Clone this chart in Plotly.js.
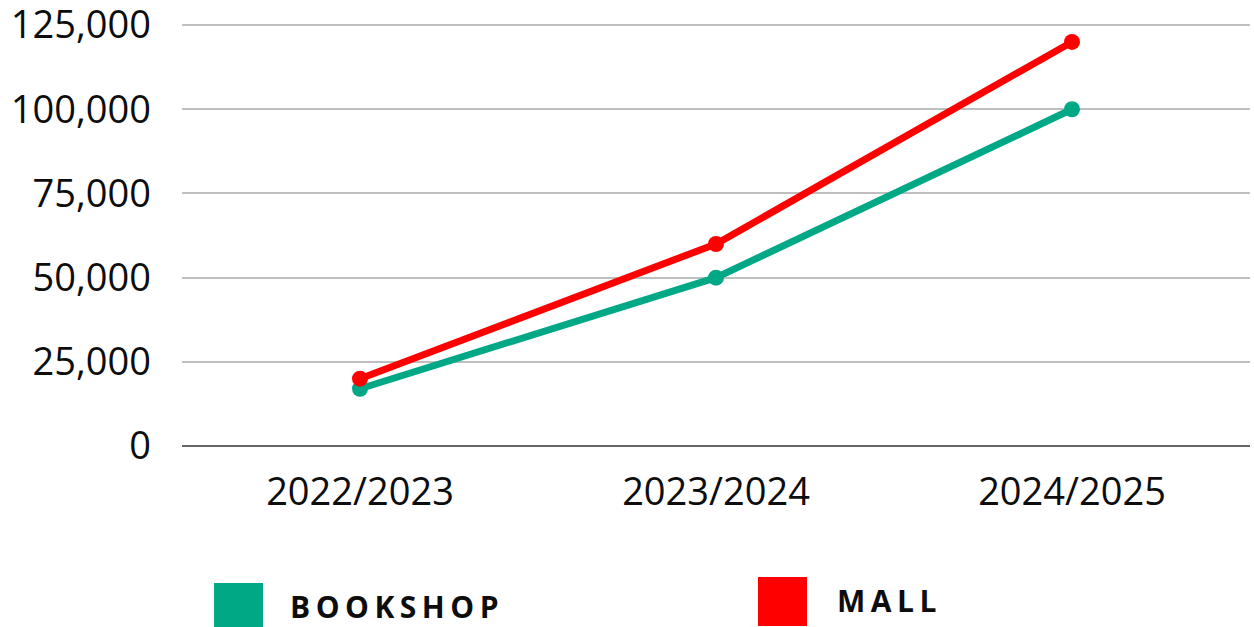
<!DOCTYPE html>
<html>
<head>
<meta charset="utf-8">
<script src="https://cdn.plot.ly/plotly-3.0.1.min.js"></script>
<style>
html,body{margin:0;padding:0;background:#fff;}
#chart{width:1254px;height:627px;}
.annotation-text{letter-spacing:5.5px;}
</style>
</head>
<body>
<div id="chart"></div>
<script>
const categories = ["2022/2023", "2023/2024", "2024/2025"];
const bookshop = [17000, 50000, 100000];
const mall = [20000, 60000, 120000];
const seriesNames = ["BOOKSHOP", "MALL"];
const yTickVals = [0, 25000, 50000, 75000, 100000, 125000];
const yTickText = ["0", "25,000", "50,000", "75,000", "100,000", "125,000"];

const GREEN = "#00a886";
const RED = "#ff0000";
const FONT = "Open Sans, Noto Sans, sans-serif";

// layout geometry in pixels
const W = 1254, H = 627;
const Y_TOP = 128000;              // axis range top (a bit above the last tick)
const zeroPx = 446, topTickPx = 25; // pixel rows of 0 and 125,000
const plotH = (zeroPx - topTickPx) * Y_TOP / 125000;
const M = {l: 182, r: 4, t: zeroPx - plotH, b: H - zeroPx};
const pw = W - M.l - M.r, ph = plotH;
const px = x => (x - M.l) / pw;
const py = y => (zeroPx - y) / ph;

const traces = [
  {x: categories, y: bookshop, name: seriesNames[0], type: "scatter", mode: "lines+markers",
   line: {color: GREEN, width: 7}, marker: {color: GREEN, size: 16}, cliponaxis: false},
  {x: categories, y: mall, name: seriesNames[1], type: "scatter", mode: "lines+markers",
   line: {color: RED, width: 7}, marker: {color: RED, size: 16}, cliponaxis: false}
];

const layout = {
  width: W, height: H,
  margin: M,
  paper_bgcolor: "#fff", plot_bgcolor: "#fff",
  showlegend: false,
  font: {family: FONT, color: "#0d0d0d", size: 38},
  xaxis: {
    type: "category", range: [-0.5, 2.5], showgrid: false, zeroline: false,
    showline: false, ticks: "", ticklabelstandoff: 20, ticklabeloverflow: "allow",
    tickfont: {family: FONT, size: 38, color: "#0d0d0d"}
  },
  yaxis: {
    range: [0, Y_TOP], tickvals: yTickVals, ticktext: yTickText,
    showgrid: true, gridcolor: "#bfbfbf", gridwidth: 2,
    zeroline: true, zerolinecolor: "#666666", zerolinewidth: 2,
    showline: false, ticks: "", ticklabelstandoff: 30, ticklabeloverflow: "allow",
    tickfont: {family: FONT, size: 38, color: "#0d0d0d"}
  },
  shapes: [
    {type: "rect", xref: "paper", yref: "paper", x0: px(214), x1: px(263), y0: py(628), y1: py(583),
     fillcolor: GREEN, line: {width: 0}},
    {type: "rect", xref: "paper", yref: "paper", x0: px(758), x1: px(807), y0: py(626), y1: py(577),
     fillcolor: RED, line: {width: 0}}
  ],
  annotations: [
    {text: "<b>" + seriesNames[0] + "</b>", xref: "paper", yref: "paper", x: px(288), y: py(607),
     xanchor: "left", yanchor: "middle", showarrow: false, font: {family: FONT, size: 30, color: "#0d0d0d"}},
    {text: "<b>" + seriesNames[1] + "</b>", xref: "paper", yref: "paper", x: px(835), y: py(601),
     xanchor: "left", yanchor: "middle", showarrow: false, font: {family: FONT, size: 30, color: "#0d0d0d"}}
  ]
};

Plotly.newPlot("chart", traces, layout, {displayModeBar: false, staticPlot: true});
</script>
</body>
</html>
